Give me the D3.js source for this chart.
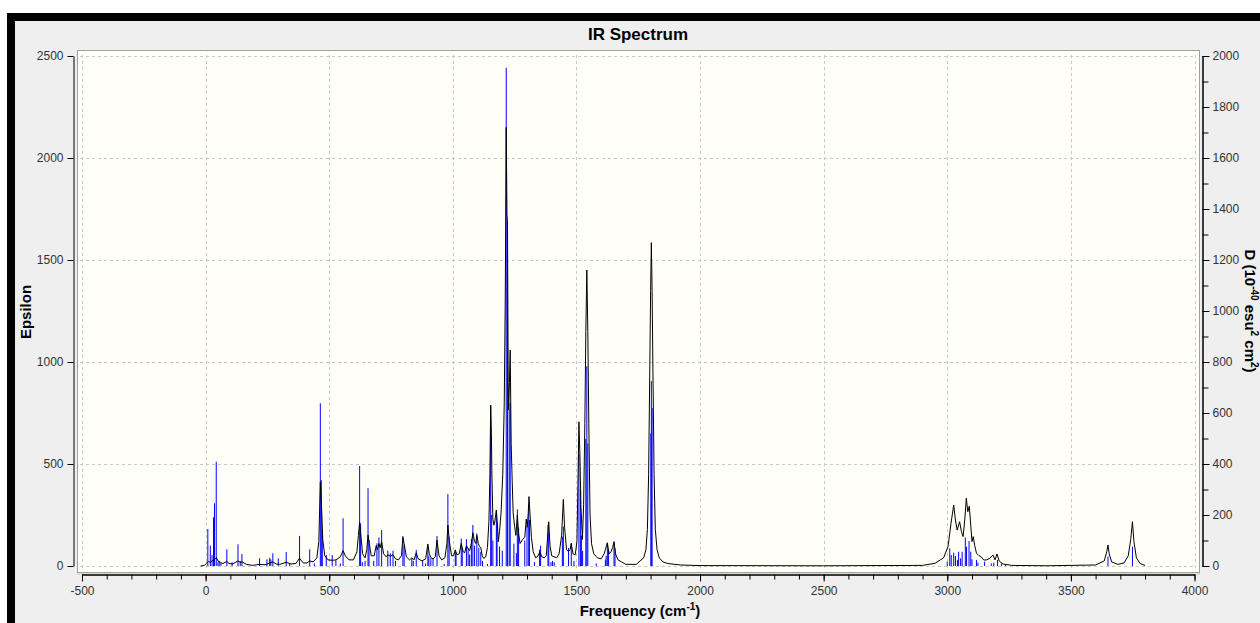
<!DOCTYPE html>
<html>
<head>
<meta charset="utf-8">
<script src="https://cdn.jsdelivr.net/npm/d3@7"></script>
<style>
  body { margin: 0; background: #fff; }
  text { font-family: "Liberation Sans", Arial, sans-serif; }
</style>
</head>
<body>
<svg id="chart" width="1260" height="623"></svg>
<script>
// tick values
var freqTicks = [-500, 0, 500, 1000, 1500, 2000, 2500, 3000, 3500, 4000];
var epsTicks = [0, 500, 1000, 1500, 2000, 2500];
var dTicks = [0, 200, 400, 600, 800, 1000, 1200, 1400, 1600, 1800, 2000];

// stick spectrum: frequency (cm-1) and D (10^-40 esu^2 cm^2)
var stickFreq = [9, 19, 26, 32, 36, 43, 50, 55, 62, 86, 107, 131, 140, 147, 218, 248, 259, 264, 272, 294, 326, 340,
    380, 421, 440, 464, 468, 472, 488, 512, 527, 545, 556, 623, 627, 634, 645, 657, 661, 680, 693, 701, 712,
    737, 747, 758, 768, 798, 803, 834, 840, 852, 878, 890,
    899, 903, 911, 920, 936, 965, 980, 985, 1010, 1013, 1034, 1038, 1055, 1062, 1068, 1075, 1081, 1088, 1097,
    1105, 1113, 1120, 1140, 1153, 1157, 1162, 1176, 1179, 1189, 1200, 1216, 1221, 1228, 1232, 1247, 1257, 1261,
    1266, 1291, 1300, 1307, 1310, 1330, 1351, 1355, 1385, 1388, 1397, 1403, 1410, 1443, 1447, 1468, 1479, 1490,
    1510, 1516, 1520, 1525, 1538, 1542, 1546, 1580, 1617, 1620, 1625, 1630, 1652, 1656, 1801, 1803, 1806,
    3000, 3010, 3016, 3026, 3033, 3041, 3046, 3054, 3060, 3073, 3078, 3088, 3095, 3100, 3118, 3124, 3151,
    3178, 3188, 3203, 3219, 3236, 3650, 3749];
var stickD = [145, 80, 43, 191, 246, 409, 15, 20, 12, 65, 15, 85, 20, 47, 30, 26, 32, 26, 50, 30, 55, 10,
    118, 65, 10, 638, 337, 141, 43, 43, 23, 10, 187, 392, 167, 15, 20, 305, 102, 20, 89, 112, 141,
    60, 50, 60, 20, 118, 80, 30, 20, 63, 20, 10,
    76, 40, 30, 30, 118, 8, 282, 115, 64, 50, 108, 70, 105, 70, 45, 105, 161, 80, 128,
    72, 55, 20, 8, 630, 200, 100, 220, 170, 76, 60, 1954, 1350, 612, 640, 88, 50, 222,
    150, 100, 154, 226, 180, 15, 64, 80, 161, 130, 15, 20, 15, 115, 155, 70, 90, 20,
    440, 300, 120, 60, 498, 784, 480, 10, 25, 40, 90, 60, 98, 70, 520, 725, 620,
    17, 69, 43, 52, 39, 24, 56, 30, 56, 112, 76, 98, 56, 26, 24, 13, 17,
    10, 13, 24, 10, 4, 37, 76];

// broadened spectrum: [frequency, epsilon]
var epsilonCurve = [[-20,0],[-5,3],[5,15],[12,22],[20,18],[30,28],[38,35],[44,40],[50,25],[60,18],[70,12],
    [86,22],[95,12],[110,10],[131,25],[140,18],[148,20],[165,8],[190,3],[218,8],[240,6],[259,15],[272,20],
    [285,10],[300,8],[326,18],[345,10],[365,12],[380,38],[395,15],[410,15],[421,25],[435,20],[450,40],
    [458,120],[464,410],[468,320],[474,130],[482,50],[495,30],[512,28],[527,30],[545,45],[556,75],[565,50],
    [580,30],[598,30],[612,70],[618,150],[623,212],[627,160],[635,60],[645,40],[652,80],[657,152],[662,110],
    [670,50],[682,50],[690,100],[695,80],[701,110],[706,90],[712,119],[720,60],[730,45],[737,55],[747,48],
    [758,55],[768,35],[780,30],[792,50],[798,140],[803,110],[812,45],[825,30],[834,40],[843,30],[852,65],
    [860,35],[875,25],[890,35],[899,108],[905,60],[912,40],[920,35],[929,45],[936,127],[944,50],[955,30],
    [968,40],[976,110],[980,201],[986,120],[995,50],[1003,50],[1010,78],[1017,55],[1026,60],[1034,111],
    [1042,70],[1048,65],[1055,100],[1062,85],[1068,75],[1075,110],[1081,163],[1088,120],[1093,110],
    [1097,150],[1103,110],[1108,95],[1113,90],[1119,50],[1125,37],[1133,45],[1140,90],[1146,220],
    [1150,450],[1153,789],[1156,650],[1158,450],[1162,230],[1166,200],[1170,220],[1176,274],[1180,210],
    [1184,119],[1189,170],[1195,260],[1202,450],[1208,800],[1212,1300],[1216,2150],[1219,1720],[1221,1690],
    [1224,900],[1226,765],[1229,900],[1232,1059],[1236,600],[1240,421],[1244,260],[1250,193],[1255,150],
    [1261,250],[1266,160],[1272,110],[1282,130],[1291,140],[1297,230],[1301,190],[1305,260],[1308,340],
    [1312,260],[1318,140],[1325,70],[1335,40],[1345,50],[1352,70],[1360,45],[1370,40],[1378,50],[1385,170],
    [1388,217],[1393,100],[1400,50],[1410,45],[1420,40],[1430,60],[1440,150],[1447,327],[1452,190],
    [1460,80],[1468,70],[1474,80],[1479,110],[1486,60],[1495,55],[1502,120],[1506,400],[1510,707],
    [1514,550],[1518,300],[1524,130],[1529,300],[1534,700],[1538,1150],[1542,1451],[1546,1150],[1550,700],
    [1555,250],[1561,110],[1570,60],[1585,40],[1600,35],[1612,60],[1617,80],[1625,114],[1632,60],[1640,70],
    [1646,90],[1652,116],[1658,60],[1668,30],[1700,8],[1742,8],[1772,40],[1781,80],[1787,180],[1792,450],
    [1797,1000],[1800,1350],[1803,1585],[1806,1350],[1809,1000],[1814,450],[1819,180],[1826,80],[1835,40],
    [1850,20],[1870,12],[1920,5],
    [2000,2],[2500,1],[2900,3],[2950,13],[2985,40],[3003,95],[3015,209],[3026,299],[3033,225],[3040,176],
    [3050,217],[3057,170],[3064,144],[3071,230],[3077,332],[3083,266],[3089,293],[3095,200],[3100,120],
    [3105,144],[3111,100],[3118,63],[3127,52],[3137,45],[3148,29],[3160,30],[3172,38],[3185,54],[3193,30],
    [3201,59],[3210,25],[3225,10],[3260,3],[3400,1],[3600,5],[3635,25],[3645,70],[3650,103],[3655,60],
    [3665,20],[3690,8],[3715,15],[3732,50],[3742,130],[3749,217],[3755,120],[3765,40],[3780,12],[3800,3]];

var svg = d3.select("#chart");

// window frame
svg.append("rect").attr("x", 7).attr("y", 13).attr("width", 1253).attr("height", 610).attr("fill", "#000");
svg.append("rect").attr("x", 15).attr("y", 21).attr("width", 1245).attr("height", 602).attr("fill", "#efefef");

var box = {left: 77, top: 50, right: 1199, bottom: 572};

var x = d3.scaleLinear().domain([-500, 4000]).range([82, 1194.5]);
var yEps = d3.scaleLinear().domain([0, 2500]).range([566, 56]);
var yD = d3.scaleLinear().domain([0, 2000]).range([566, 56]);

// plot area
svg.append("rect")
    .attr("x", box.left + 0.5).attr("y", box.top + 0.5)
    .attr("width", box.right - box.left).attr("height", box.bottom - box.top)
    .attr("fill", "#fffff7").attr("stroke", "#a0a0a0").attr("stroke-width", 1);
svg.append("line")
    .attr("x1", box.left).attr("x2", box.right + 1)
    .attr("y1", box.bottom + 2).attr("y2", box.bottom + 2)
    .attr("stroke", "#c8c8c8");

svg.append("defs").append("clipPath").attr("id", "clip")
  .append("rect").attr("x", box.left + 1).attr("y", box.top + 1)
    .attr("width", box.right - box.left - 1).attr("height", box.bottom - box.top - 1);

// grid
var grid = svg.append("g").attr("stroke", "#c8c8c8").attr("stroke-dasharray", "3,3");
grid.selectAll("line.v").data(freqTicks).enter().append("line")
    .attr("x1", d => Math.round(x(d)) + 0.5).attr("x2", d => Math.round(x(d)) + 0.5)
    .attr("y1", box.top + 5).attr("y2", box.bottom - 1);
grid.selectAll("line.h").data(epsTicks).enter().append("line")
    .attr("y1", d => Math.round(yEps(d)) + 0.5).attr("y2", d => Math.round(yEps(d)) + 0.5)
    .attr("x1", box.left + 3).attr("x2", box.right - 3);

var plot = svg.append("g").attr("clip-path", "url(#clip)");

// sticks
plot.selectAll("line.stick").data(stickFreq).enter().append("line")
    .attr("class", "stick")
    .attr("x1", d => x(d)).attr("x2", d => x(d))
    .attr("y1", yD(0)).attr("y2", (d, i) => yD(stickD[i]))
    .attr("stroke", "#0000ff").attr("stroke-width", 1);

// broadened curve
var line = d3.line().x(d => x(d[0])).y(d => yEps(d[1]));
plot.append("path").datum(epsilonCurve)
    .attr("d", line)
    .attr("fill", "none").attr("stroke", "#000").attr("stroke-width", 1);

function styleAxis(g) {
    g.selectAll("path.domain").attr("stroke", "#000");
    g.selectAll(".tick line").attr("stroke", "#000");
    g.selectAll("text").attr("fill", "#333").style("font-size", "12px")
        .style("font-family", "'Liberation Sans', Arial, sans-serif");
}

var plain = d => String(d);

// bottom axis: minor then major
var minorFreq = d3.range(-500, 4001, 100);
svg.append("g").attr("transform", "translate(0,574.5)")
    .call(d3.axisBottom(x).tickValues(minorFreq).tickSize(5).tickSizeOuter(0).tickFormat(""))
    .call(styleAxis);
svg.append("g").attr("transform", "translate(0,574.5)")
    .call(d3.axisBottom(x).tickValues(freqTicks).tickSize(7).tickSizeOuter(0).tickPadding(5).tickFormat(plain))
    .call(styleAxis);

// left axis
svg.append("g").attr("transform", "translate(73.5,0)")
    .call(d3.axisLeft(yEps).tickValues(epsTicks).tickSize(6).tickSizeOuter(0).tickPadding(4).tickFormat(plain))
    .call(styleAxis);

// right axis
var minorD = d3.range(0, 2001, 100);
svg.append("g").attr("transform", "translate(1202.5,0)")
    .call(d3.axisRight(yD).tickValues(minorD).tickSize(6).tickSizeOuter(0).tickFormat(""))
    .call(styleAxis);
svg.append("g").attr("transform", "translate(1202.5,0)")
    .call(d3.axisRight(yD).tickValues(dTicks).tickSize(7).tickSizeOuter(0).tickPadding(3).tickFormat(plain))
    .call(styleAxis);

// titles
svg.append("text").attr("x", 638).attr("y", 40).attr("text-anchor", "middle")
    .style("font-size", "17px").style("font-weight", "bold").attr("fill", "#000")
    .text("IR Spectrum");

var xt = svg.append("text").attr("x", 640).attr("y", 616).attr("text-anchor", "middle")
    .style("font-size", "15px").style("font-weight", "bold").attr("fill", "#000");
xt.append("tspan").text("Frequency (cm");
xt.append("tspan").attr("dy", -6).style("font-size", "10px").text("-1");
xt.append("tspan").attr("dy", 6).text(")");

svg.append("text").attr("transform", "translate(31,312) rotate(-90)").attr("text-anchor", "middle")
    .style("font-size", "15px").style("font-weight", "bold").attr("fill", "#000")
    .text("Epsilon");

var yt = svg.append("text").attr("transform", "translate(1245,311) rotate(90)").attr("text-anchor", "middle")
    .style("font-size", "15px").style("font-weight", "bold").attr("fill", "#000");
yt.append("tspan").text("D (10");
yt.append("tspan").attr("dy", -6).style("font-size", "10px").text("-40");
yt.append("tspan").attr("dy", 6).text(" esu");
yt.append("tspan").attr("dy", -6).style("font-size", "10px").text("2");
yt.append("tspan").attr("dy", 6).text(" cm");
yt.append("tspan").attr("dy", -6).style("font-size", "10px").text("2");
yt.append("tspan").attr("dy", 6).text(")");
</script>
</body>
</html>
